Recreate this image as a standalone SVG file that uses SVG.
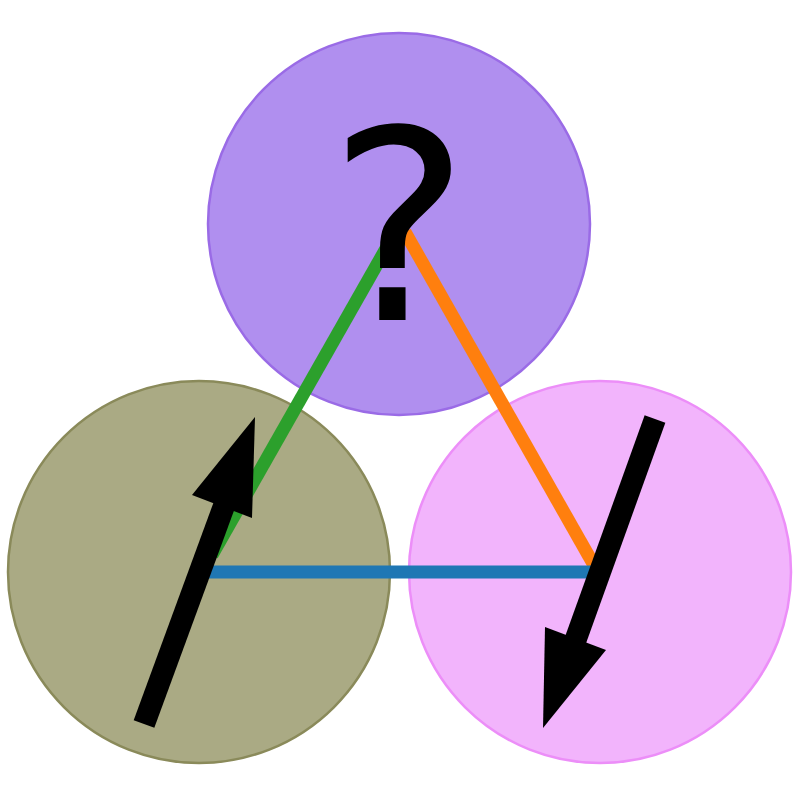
<svg xmlns="http://www.w3.org/2000/svg" width="800" height="800" viewBox="0 0 800 800">
<style>
.c{stroke-width:2.5}
.l{stroke-width:13;fill:none}
.sh{stroke:#000;stroke-width:22}
</style>
<rect width="800" height="800" fill="#fff"/>
<g id="top"><circle class="c" cx="399" cy="224" r="191" fill="#b08fef" stroke="#9a6be6"/></g>
<g id="left"><circle class="c" cx="199" cy="572" r="191" fill="#aaaa84" stroke="#8a8a5a"/></g>
<g id="right"><circle class="c" cx="600" cy="572" r="191" fill="#f2b4fc" stroke="#ec8ef8"/></g>
<g id="connectors">
<line class="l" x1="212" y1="555" x2="392" y2="238" stroke="#2ca02c"/>
<line class="l" x1="405" y1="232" x2="595" y2="567" stroke="#ff7f0e"/>
<line class="l" x1="205" y1="572" x2="592" y2="572" stroke="#1f77b4"/>
</g>
<g id="label"><text x="399" y="320" font-family="DejaVu Sans, sans-serif" font-size="265" text-anchor="middle" fill="#000">?</text></g>
<g id="arrow-up">
<line class="sh" x1="144" y1="724" x2="228" y2="495"/>
<polygon points="255,417 192,495 252,518" fill="#000"/>
</g>
<g id="arrow-down">
<line class="sh" x1="655" y1="419" x2="573" y2="647"/>
<polygon points="543,728 545,627 606,650" fill="#000"/>
</g>
</svg>
